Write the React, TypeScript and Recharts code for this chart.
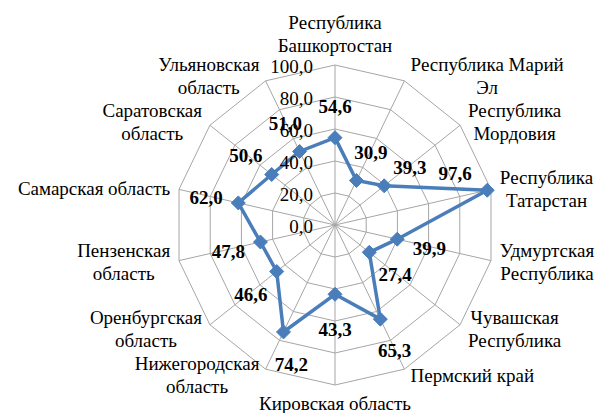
import React from 'react';
import { RadarChart, Radar, PolarGrid, PolarAngleAxis, PolarRadiusAxis } from 'recharts';

const categories = [
  'Республика\nБашкортостан',
  'Республика Марий\nЭл',
  'Республика\nМордовия',
  'Республика\nТатарстан',
  'Удмуртская\nРеспублика',
  'Чувашская\nРеспублика',
  'Пермский край',
  'Кировская область',
  'Нижегородская\nобласть',
  'Оренбургская\nобласть',
  'Пензенская\nобласть',
  'Самарская область',
  'Саратовская\nобласть',
  'Ульяновская\nобласть',
];
const values = [54.6, 30.9, 39.3, 97.6, 39.9, 27.4, 65.3, 43.3, 74.2, 46.6, 47.8, 62.0, 50.6, 51.0];
const radiusDomain: [number, number] = [0, 100];

const data = categories.map((name, i) => ({ name, value: values[i] }));

const W = 603;
const H = 413;
const CX = 335;
const CY = 225;
const R = 160;
const FONT = "'Times New Roman', Tinos, 'Liberation Serif', Times, serif";
const FS = 19;
const LINE = 23;
const BLUE = '#4A7EBB';
const GRID = '#A6A6A6';

const fmt = (v: number) => v.toFixed(1).replace('.', ',');

let ctxCache: CanvasRenderingContext2D | null = null;
const measure = (s: string, bold = false) => {
  if (!ctxCache) ctxCache = document.createElement('canvas').getContext('2d');
  if (!ctxCache) return s.length * FS * 0.5;
  ctxCache.font = `${bold ? 'bold ' : ''}${FS}px ${FONT}`;
  return ctxCache.measureText(s).width;
};

const textStyle = (bold = false): React.CSSProperties => ({
  fontFamily: FONT,
  fontSize: FS,
  fontWeight: bold ? 700 : 400,
  fill: '#000',
});

const AngleTick = (props: any) => {
  const { x, y, payload } = props;
  const ang = Math.atan2(CY - y, x - CX);
  const c = Math.cos(ang);
  const s = Math.sin(ang);
  const px = CX + R * c;
  const py = CY - R * s;
  const lines = String(payload.value).split('\n');
  const n = lines.length;
  const bw = Math.max(...lines.map((l) => measure(l)));
  let centerX = px;
  let centerY = py;
  if (Math.abs(c) < 0.05) {
    if (s > 0) centerY = py - 20 - ((n - 1) * LINE) / 2;
    else centerY = py + 18 + ((n - 1) * LINE) / 2;
  } else {
    const gap = 4 + 5 * Math.abs(c);
    centerX = c > 0 ? px + gap + bw / 2 : px - gap - bw / 2;
    centerY = py - 6 * s;
  }
  return (
    <text style={textStyle()} textAnchor="middle" dominantBaseline="central">
      {lines.map((l, k) => (
        <tspan key={k} x={centerX} y={centerY + (k - (n - 1) / 2) * LINE}>
          {l}
        </tspan>
      ))}
    </text>
  );
};

const RadiusTick = (props: any) => {
  const { y, payload } = props;
  return (
    <text x={CX - 22} y={y + 1} textAnchor="end" dominantBaseline="central" style={textStyle()}>
      {fmt(Number(payload.value))}
    </text>
  );
};

const labelNudges: Record<number, [number, number]> = { 3: [-32, -17], 8: [8, 33] };

const Dot = (props: any) => {
  const { cx, cy, index, payload } = props;
  const v = payload && typeof payload.value === 'number' ? payload.value : props.value;
  const d = 7;
  const dx0 = cx - CX;
  const dy0 = cy - CY;
  const len = Math.sqrt(dx0 * dx0 + dy0 * dy0) || 1;
  let lx = cx + (dx0 / len) * 33;
  let ly = cy + (dy0 / len) * 33 + 2;
  const nudge = labelNudges[index];
  if (nudge) {
    lx = cx + nudge[0];
    ly = cy + nudge[1];
  }
  return (
    <g key={`dot-${index}`}>
      <path d={`M${cx},${cy - d}L${cx + d},${cy}L${cx},${cy + d}L${cx - d},${cy}Z`} fill={BLUE} stroke={BLUE} strokeWidth={1} />
      <text x={lx} y={ly} textAnchor="middle" dominantBaseline="central" style={textStyle(true)}>
        {fmt(Number(v))}
      </text>
    </g>
  );
};

export default function App() {
  return (
    <div style={{ position: 'absolute', left: 0, top: 0, width: W, height: H, background: '#fff', fontFamily: FONT }}>
      <RadarChart
        width={W}
        height={H}
        data={data}
        cx={CX}
        cy={CY}
        outerRadius={R}
        startAngle={90}
        endAngle={-270}
        margin={{ top: 0, right: 0, bottom: 0, left: 0 }}
      >
        <PolarGrid gridType="polygon" stroke={GRID} strokeWidth={1} />
        <PolarAngleAxis dataKey="name" tick={<AngleTick />} tickLine={false} axisLine={false} />
        <PolarRadiusAxis
          angle={90}
          type="number"
          domain={radiusDomain}
          tickCount={6}
          axisLine={false}
          tickLine={false}
          tick={<RadiusTick />}
        />
        <Radar
          dataKey="value"
          stroke={BLUE}
          strokeWidth={3.5}
          fill="none"
          fillOpacity={0}
          dot={Dot}
          isAnimationActive={false}
        />
      </RadarChart>
    </div>
  );
}
